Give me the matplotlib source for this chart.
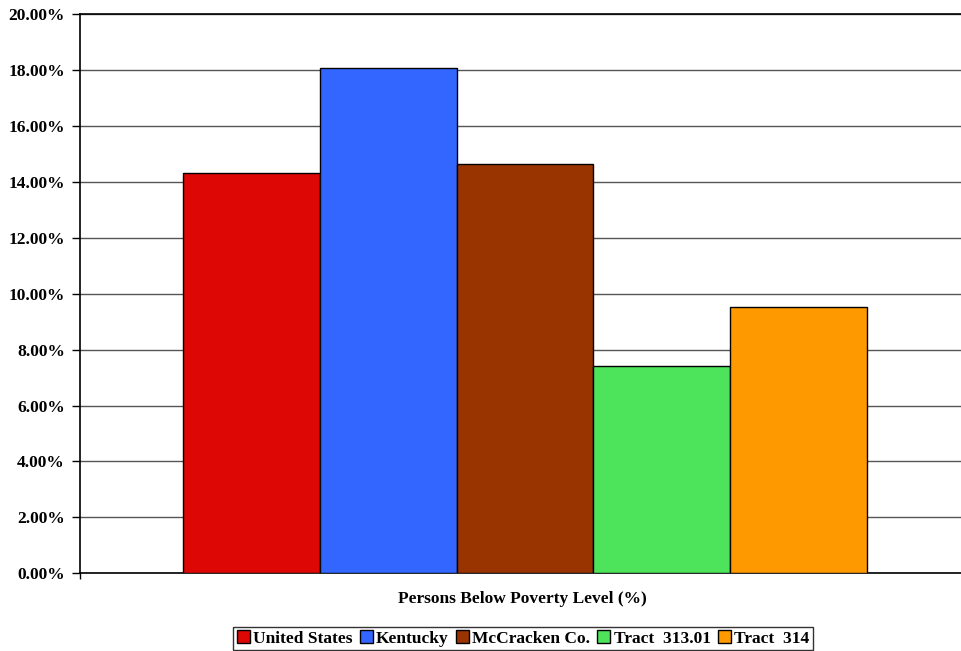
import numpy as np
import matplotlib.pyplot as plt
from matplotlib.patches import Patch
from matplotlib.ticker import FuncFormatter

# Persons below poverty level, percent
areas = ["United States", "Kentucky", "McCracken Co.", "Tract  313.01", "Tract  314"]
poverty_pct = [14.31, 18.09, 14.63, 7.41, 9.52]
bar_colors = ["#DD0806", "#3366FF", "#993300", "#4DE35A", "#FF9900"]

plt.rcParams["font.family"] = ["Liberation Serif", "DejaVu Serif"]
plt.rcParams["font.weight"] = "bold"

fig = plt.figure(figsize=(9.62, 6.51), dpi=100)
ax = fig.add_axes([0.0832, 0.1194, 0.9168, 0.8586])

x = np.arange(len(areas))
ax.bar(x, poverty_pct, width=1.0, color=bar_colors, edgecolor="black",
       linewidth=1.0, zorder=3)

ax.set_xlim(-1.252, 5.193)
ax.set_ylim(0, 20)
ax.set_yticks(np.arange(0, 20.1, 2))
ax.yaxis.set_major_formatter(FuncFormatter(lambda v, p: f"{v:.2f}%"))
ax.tick_params(axis="y", direction="out", length=6, width=1, labelsize=12.5, pad=5)
ax.set_xticks([-1.252])
ax.set_xticklabels([""])
ax.tick_params(axis="x", direction="out", length=4, width=1)

for lbl in ax.get_yticklabels():
    lbl.set_fontweight("bold")

ax.grid(axis="y", color="#555555", linewidth=1.0, zorder=0)
ax.spines["right"].set_visible(False)
ax.spines["top"].set_color("black")
ax.spines["top"].set_linewidth(1.2)
ax.spines["left"].set_linewidth(1.2)
ax.spines["bottom"].set_linewidth(1.2)

fig.text(0.543, 1 - 599 / 651, "Persons Below Poverty Level (%)", fontsize=12.5,
         fontweight="bold", ha="center", va="center")

handles = [Patch(facecolor=c, edgecolor="black", linewidth=1.0) for c in bar_colors]
leg = fig.legend(handles, areas, loc="center", bbox_to_anchor=(0.5437, 0.0195),
                 ncol=5, frameon=True, fancybox=False, edgecolor="black",
                 prop={"weight": "bold", "size": 12.5}, handlelength=0.75,
                 handleheight=0.75, handletextpad=0.2, columnspacing=0.4,
                 borderpad=0.2, borderaxespad=0)
leg.get_frame().set_linewidth(1.0)

fig.savefig("out.png", dpi=100)
